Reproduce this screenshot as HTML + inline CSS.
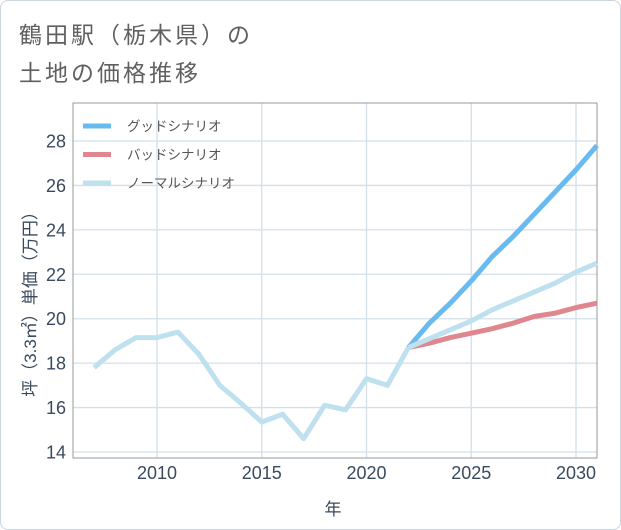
<!DOCTYPE html>
<html><head><meta charset="utf-8"><style>
body{margin:0;background:#fff;}
#card{position:absolute;left:0;top:0;width:619px;height:528px;border:1px solid #ccd6e0;border-radius:8px;background:#fff;overflow:hidden;}
.title{position:absolute;left:18px;font:23px "Liberation Sans","Noto Sans CJK JP",sans-serif;color:#606060;letter-spacing:3px;}
svg text{font-family:"Liberation Sans","Noto Sans CJK JP",sans-serif;}
</style></head><body>
<div id="card">
<div class="title" style="top:15px">鶴田駅（栃木県）の</div>
<div class="title" style="top:53px">土地の価格推移</div>
<svg id="chart" width="621" height="530" style="position:absolute;left:-1px;top:-1px"></svg>
</div>
<script>
const historyYears=[2007,2008,2009,2010,2011,2012,2013,2014,2015,2016,2017,2018,2019,2020,2021,2022];
const historyValues=[17.8,18.6,19.15,19.15,19.4,18.4,17.0,16.2,15.35,15.7,14.6,16.1,15.9,17.3,17.0,18.7];
const forecastYears=[2022,2023,2024,2025,2026,2027,2028,2029,2030,2031];
const goodValues=[18.7,19.8,20.7,21.7,22.8,23.7,24.7,25.7,26.7,27.8];
const badValues=[18.7,18.9,19.15,19.35,19.55,19.8,20.1,20.25,20.5,20.7];
const normalValues=[18.7,19.1,19.5,19.9,20.4,20.8,21.2,21.6,22.1,22.5];
const xTicks=[2010,2015,2020,2025,2030];
const yTicks=[14,16,18,20,22,24,26,28];
const legendLabels=["グッドシナリオ","バッドシナリオ","ノーマルシナリオ"];

const NS="http://www.w3.org/2000/svg";
const svg=document.getElementById('chart');
const L=73,R=597,T=103,B=458;
const X=y=>157+(y-2010)*(576-157)/20;
const Y=v=>452-(v-14)*(452-141)/14;
function el(t,a,p){const e=document.createElementNS(NS,t);for(const k in a)e.setAttribute(k,a[k]);(p||svg).appendChild(e);return e;}
for(const t of xTicks){
 const g=el('line',{x1:X(t),x2:X(t),y1:T,y2:B,stroke:'#d3dfea','stroke-width':1.3});
 
 
 const tx=el('text',{x:X(t),y:479,'text-anchor':'middle','font-size':18,fill:'#3a4a5e'});tx.textContent=t;
 
 
}
for(const t of yTicks){
 const g=el('line',{x1:L,x2:R,y1:Y(t),y2:Y(t),stroke:'#d3dfea','stroke-width':1.3});
 
 
 const tx=el('text',{x:66,y:Y(t)+6.5,'text-anchor':'end','font-size':18,fill:'#3a4a5e'});tx.textContent=t;
 
 
}
const fr=el('rect',{x:L,y:T,width:R-L,height:B-T,fill:'none',stroke:'#999','stroke-width':1});


function line(xs,vs,color,name){
 const p=el('polyline',{points:xs.map((x,i)=>X(x)+','+Y(vs[i])).join(' '),fill:'none',stroke:color,'stroke-width':5,'stroke-linejoin':'round'});
 
 
}
line(forecastYears,badValues,'#e0868f','bad-scenario-line');
line(forecastYears,goodValues,'#68bbf0','good-scenario-line');
line(forecastYears,normalValues,'#bfe0ef','normal-scenario-line');
line(historyYears,historyValues,'#bfe0ef','historical-line');
const colors=['#68bbf0','#e0868f','#bfe0ef'];
legendLabels.forEach((lab,i)=>{
 const y=126+i*28.5;
 const s=el('line',{x1:83,x2:111,y1:y,y2:y,stroke:colors[i],'stroke-width':5});
 
 
 const t=el('text',{x:127,y:y+5,'font-size':13.5,fill:'#555'});t.textContent=lab;
 
 
});
const xt=el('text',{x:333,y:515,'text-anchor':'middle','font-size':17,fill:'#3a4a5e'});xt.textContent='年';


const yt=el('text',{x:0,y:0,'text-anchor':'middle','font-size':17,fill:'#3a4a5e',transform:'translate(36,300) rotate(-90)'});yt.textContent='坪（3.3㎡）単価（万円）';


</script>
</body></html>
